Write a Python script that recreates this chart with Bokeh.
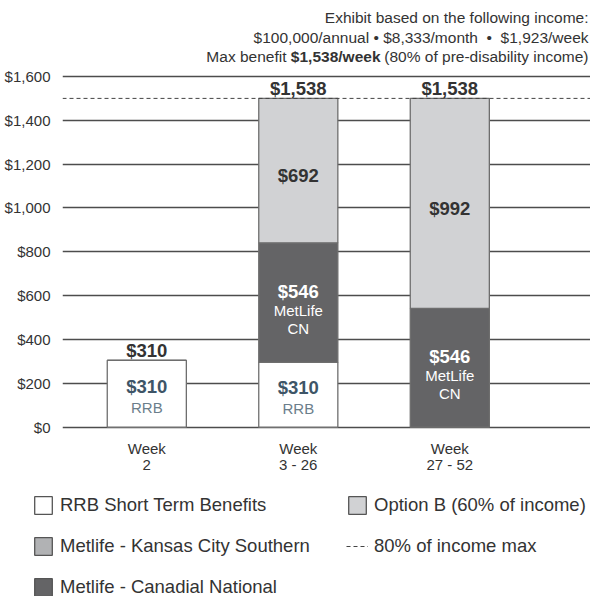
import numpy as np
from bokeh.plotting import figure
from bokeh.models import (ColumnDataSource, Range1d, FixedTicker, NumeralTickFormatter,
                          Span, Label, Legend, LegendItem)
from bokeh.layouts import column, row
from bokeh.embed import file_html
from bokeh.resources import INLINE
from bokeh.core.properties import value

# ---------------- data ----------------
periods = ["Week\n2", "Week\n3 - 26", "Week\n27 - 52"]
rrb = [305, 296, 0]          # RRB short term benefits (as drawn)
cn = [0, 545, 542]           # Metlife - Canadian National (as drawn)
optb = [0, 659, 958]         # Option B (as drawn)
max_line = 1500              # 80% of income max (dashed line as drawn)

top_labels = ["$310", "$1,538", "$1,538"]
rrb_labels = ["$310", "$310", ""]
rrb_names = ["RRB", "RRB", ""]
cn_labels = ["", "$546", "$546"]
cn_names = ["", "MetLife", "MetLife"]
cn_codes = ["", "CN", "CN"]
optb_labels = ["", "$692", "$992"]

y_ticks = [0, 200, 400, 600, 800, 1000, 1200, 1400, 1600]

legend_labels = ["RRB Short Term Benefits", "Metlife - Kansas City Southern",
                 "Metlife - Canadial National", "Option B (60% of income)",
                 "80% of income max"]

header_1 = "Exhibit based on the following income:"
header_2 = "$100,000/annual \u2022 $8,333/month \u00a0\u2022\u00a0 $1,923/week"
header_3a = "Max benefit"
header_3b = "$1,538/week"
header_3c = "(80% of pre-disability income)"

# ---------------- styles ----------------
FONT = "Liberation Sans"
C_WHITE = "#ffffff"
C_DARK = "#646466"
C_KCS = "#b1b2b4"
C_LIGHT = "#d1d2d4"
C_OUT = "#6e6e6e"
C_TEXT = "#333333"
C_SLATE = "#3e5567"
C_SLATE2 = "#6b7e8b"

x = np.arange(1, len(periods) + 1)
rrb_a = np.array(rrb, dtype=float)
cn_a = np.array(cn, dtype=float)
optb_a = np.array(optb, dtype=float)
cn_bot = rrb_a
cn_top = rrb_a + cn_a
opt_top = cn_top + optb_a

src = ColumnDataSource(dict(
    x=x, rrb=rrb_a, cn=cn_a, optb=optb_a,
    tops=opt_top,
    rrb_mid=rrb_a / 2, cn_mid=(cn_bot + cn_top) / 2, opt_mid=(cn_top + opt_top) / 2,
    top_labels=top_labels, rrb_labels=rrb_labels, rrb_names=rrb_names,
    cn_labels=cn_labels, cn_names=cn_names, cn_codes=cn_codes,
    optb_labels=optb_labels,
))

p = figure(width=590, height=483,
           x_range=Range1d(0.4436, 3.9287), y_range=Range1d(-10.5, 1946.6),
           output_backend="svg", toolbar_location=None,
           min_border_left=62, min_border_right=0, min_border_top=0,
           min_border_bottom=54, outline_line_color=None)
p.background_fill_color = "white"
p.border_fill_color = "white"

# axes
p.xaxis.ticker = FixedTicker(ticks=list(x))
p.xaxis.major_label_overrides = {int(xi): lab for xi, lab in zip(x, periods)}
p.yaxis.ticker = FixedTicker(ticks=y_ticks)
p.yaxis.formatter = NumeralTickFormatter(format="$0,0")
for ax in (p.xaxis, p.yaxis):
    ax.axis_line_color = None
    ax.major_tick_line_color = None
    ax.minor_tick_line_color = None
    ax.major_label_text_font = FONT
    ax.major_label_text_color = C_TEXT
p.xaxis.major_label_text_font_size = "15px"
p.xaxis.major_label_text_line_height = 0.95
p.yaxis.major_label_text_font_size = "15px"
p.xaxis.major_label_standoff = 4
p.yaxis.major_label_standoff = 6

p.xgrid.grid_line_color = None
p.ygrid.grid_line_color = "#4d4d4d"
p.ygrid.grid_line_width = 1.3

# bars
bars = p.vbar_stack(["rrb", "cn", "optb"], x="x", width=0.522, source=src,
                    fill_color=[C_WHITE, C_DARK, C_LIGHT],
                    line_color=[C_OUT, C_OUT, C_OUT], line_width=1.3)

p.add_layout(Span(location=max_line, dimension="width", line_color="#444444",
                  line_width=1, line_dash="4 3"))

def txt(y, text, yoff, size, color, bold):
    p.text(x="x", y=y, text=text, source=src, text_align="center",
           text_baseline="middle", y_offset=yoff,
           text_font=value(FONT), text_font_size=size, text_color=color,
           text_font_style="bold" if bold else "normal")

txt("tops", "top_labels", -10, "18.5px", C_TEXT, True)
txt("rrb_mid", "rrb_labels", -7, "18.5px", C_SLATE, True)
txt("rrb_mid", "rrb_names", 14, "15px", C_SLATE2, False)
txt("cn_mid", "cn_labels", -11, "18.5px", "white", True)
txt("cn_mid", "cn_names", 8, "15px", "white", False)
txt("cn_mid", "cn_codes", 26, "15px", "white", False)
txt("opt_mid", "optb_labels", 5, "18.5px", C_TEXT, True)

# header text (frame-relative screen units for y)
def hdr(text, y, xoff, bold=False):
    p.add_layout(Label(x=p.x_range.end, y=y, x_units="data", y_units="screen",
                       x_offset=xoff, text=text, text_align="right",
                       text_baseline="middle", text_font=FONT,
                       text_font_size="15.5px", text_color=C_TEXT,
                       text_font_style="bold" if bold else "normal"))

hdr(header_1, 412, -2)
hdr(header_2, 392, -2)
hdr(header_3c, 373, -2)
hdr(header_3b, 373, -210, True)
hdr(header_3a, 373, -304)

# ---------------- legend figure ----------------
lf = figure(width=590, height=113, output_backend="svg", toolbar_location=None,
            x_range=Range1d(0, 1), y_range=Range1d(0, 1),
            x_axis_location=None, y_axis_location=None,
            min_border_left=21, min_border_right=0, min_border_top=0,
            min_border_bottom=0, outline_line_color=None)
lf.grid.visible = False
lf.background_fill_color = "white"
lf.border_fill_color = "white"

# proxy renderers (no drawable data) used only for legend swatches
def proxy_bar(color):
    return lf.vbar(x=[np.nan], top=[np.nan], width=0.1, fill_color=color,
                   line_color="#555555", line_width=1.3)

r_rrb = proxy_bar(C_WHITE)
r_kcs = proxy_bar(C_KCS)
r_cn = proxy_bar(C_DARK)
r_opt = proxy_bar(C_LIGHT)
r_max = lf.line(x=[np.nan, np.nan], y=[np.nan, np.nan], line_color="#444444",
                line_width=1.2, line_dash="4 3")

legend = Legend(items=[LegendItem(label=lab, renderers=[r]) for lab, r in
                       zip(legend_labels, [r_rrb, r_kcs, r_cn, r_opt, r_max])],
                location="top_left", orientation="vertical", ncols=2,
                glyph_width=22, glyph_height=22, label_standoff=6,
                label_width=267, spacing=19, padding=11, margin=0,
                label_text_font=FONT, label_text_font_size="18.5px",
                label_text_color=C_TEXT, border_line_alpha=0,
                background_fill_alpha=0)
lf.add_layout(legend)

layout = column(p, row(lf))
open("out.html", "w").write(file_html(layout, INLINE))
